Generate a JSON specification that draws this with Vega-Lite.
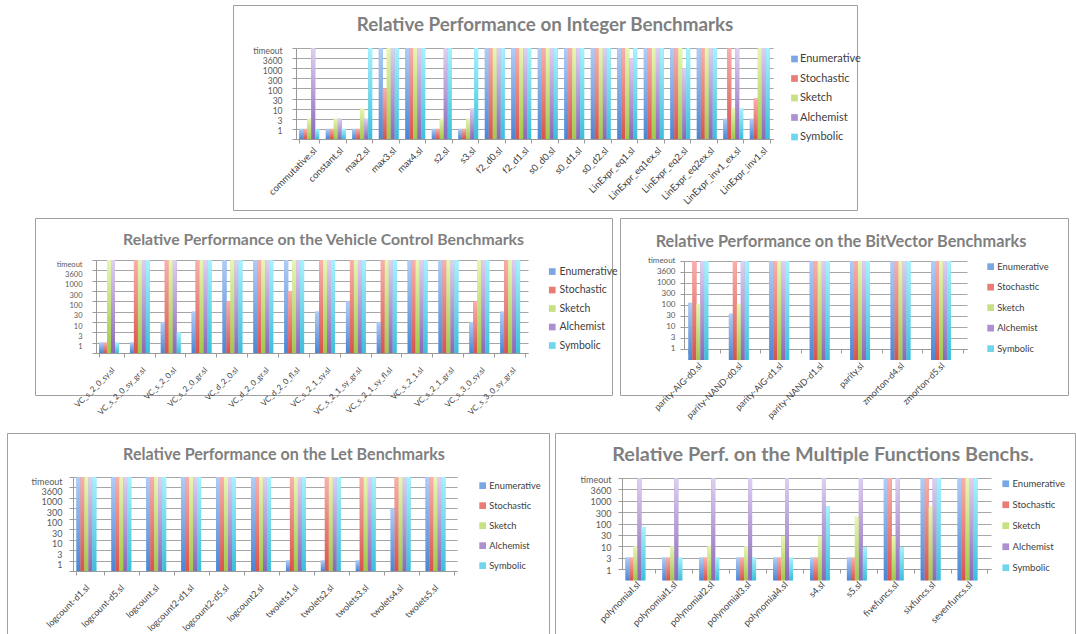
{
  "$schema": "https://vega.github.io/schema/vega-lite/v6.json",
  "padding": {"left": 5, "top": 4, "right": 0, "bottom": 0},
  "background": "white",
  "config": {
    "view": {"stroke": null},
    "font": "Lato",
    "axis": {"labelFont": "Lato", "domainColor": "#9a9a9a", "tickColor": "#9a9a9a", "gridColor": "#a6a6a6", "title": null},
    "axisX": {"labelAngle": -45, "labelColor": "#404040", "tickSize": 4, "tickBand": "extent", "labelOverlap": false, "labelLimit": 300, "grid": false, "zindex": 1},
    "axisY": {"labelColor": "#595959", "tickSize": 4, "grid": true, "labelExpr": "['','1','3','10','30','100','300','1000','3600','timeout'][datum.value]"},
    "legend": {"orient": "none", "title": null, "symbolType": "square", "symbolSize": 45, "symbolStrokeWidth": 0, "labelFont": "Lato", "labelColor": "#404040", "labelOffset": 2, "padding": 0, "direction": "vertical"},
    "title": {"font": "Lato", "fontWeight": "bold", "color": "#7f7f7f", "anchor": "middle", "frame": "group"},
    "bar": {"strokeWidth": 0}
  },
  "datasets": {
    "int": [
      {"b": "commutative.sl", "Enumerative": 1, "Stochastic": 1, "Sketch": 2, "Alchemist": 9, "Symbolic": 1},
      {"b": "constant.sl", "Enumerative": 1, "Stochastic": 1, "Sketch": 2, "Alchemist": 2, "Symbolic": 1},
      {"b": "max2.sl", "Enumerative": 1, "Stochastic": 1, "Sketch": 3, "Alchemist": 2, "Symbolic": 9},
      {"b": "max3.sl", "Enumerative": 9, "Stochastic": 5, "Sketch": 9, "Alchemist": 9, "Symbolic": 9},
      {"b": "max4.sl", "Enumerative": 9, "Stochastic": 9, "Sketch": 9, "Alchemist": 9, "Symbolic": 9},
      {"b": "s2.sl", "Enumerative": 1, "Stochastic": 1, "Sketch": 2, "Alchemist": 9, "Symbolic": 9},
      {"b": "s3.sl", "Enumerative": 1, "Stochastic": 1, "Sketch": 2, "Alchemist": 3, "Symbolic": 9},
      {"b": "f2_d0.sl", "Enumerative": 9, "Stochastic": 9, "Sketch": 9, "Alchemist": 9, "Symbolic": 9},
      {"b": "f2_d1.sl", "Enumerative": 9, "Stochastic": 9, "Sketch": 9, "Alchemist": 9, "Symbolic": 9},
      {"b": "s0_d0.sl", "Enumerative": 9, "Stochastic": 9, "Sketch": 9, "Alchemist": 9, "Symbolic": 9},
      {"b": "s0_d1.sl", "Enumerative": 9, "Stochastic": 9, "Sketch": 9, "Alchemist": 9, "Symbolic": 9},
      {"b": "s0_d2.sl", "Enumerative": 9, "Stochastic": 9, "Sketch": 9, "Alchemist": 9, "Symbolic": 9},
      {"b": "LinExpr_eq1.sl", "Enumerative": 9, "Stochastic": 9, "Sketch": 9, "Alchemist": 8, "Symbolic": 9},
      {"b": "LinExpr_eq1ex.sl", "Enumerative": 9, "Stochastic": 9, "Sketch": 9, "Alchemist": 9, "Symbolic": 9},
      {"b": "LinExpr_eq2.sl", "Enumerative": 9, "Stochastic": 9, "Sketch": 9, "Alchemist": 7, "Symbolic": 9},
      {"b": "LinExpr_eq2ex.sl", "Enumerative": 9, "Stochastic": 9, "Sketch": 9, "Alchemist": 9, "Symbolic": 9},
      {"b": "LinExpr_inv1_ex.sl", "Enumerative": 2, "Stochastic": 9, "Sketch": 3, "Alchemist": 9, "Symbolic": 3},
      {"b": "LinExpr_inv1.sl", "Enumerative": 2, "Stochastic": 4, "Sketch": 9, "Alchemist": 9, "Symbolic": 9}
    ],
    "vc": [
      {"b": "VC_s_2_0_sy.sl", "Enumerative": 1, "Stochastic": 1, "Sketch": 9, "Alchemist": 9, "Symbolic": 1},
      {"b": "VC_s_2_0_sy_gr.sl", "Enumerative": 1, "Stochastic": 9, "Sketch": 9, "Alchemist": 9, "Symbolic": 9},
      {"b": "VC_s_2_0.sl", "Enumerative": 3, "Stochastic": 9, "Sketch": 9, "Alchemist": 9, "Symbolic": 2},
      {"b": "VC_s_2_0_gr.sl", "Enumerative": 4, "Stochastic": 9, "Sketch": 9, "Alchemist": 9, "Symbolic": 9},
      {"b": "VC_d_2_0.sl", "Enumerative": 9, "Stochastic": 5, "Sketch": 9, "Alchemist": 9, "Symbolic": 9},
      {"b": "VC_d_2_0_gr.sl", "Enumerative": 9, "Stochastic": 9, "Sketch": 9, "Alchemist": 9, "Symbolic": 9},
      {"b": "VC_d_2_0_fl.sl", "Enumerative": 9, "Stochastic": 6, "Sketch": 9, "Alchemist": 9, "Symbolic": 9},
      {"b": "VC_s_2_1_sy.sl", "Enumerative": 4, "Stochastic": 9, "Sketch": 9, "Alchemist": 9, "Symbolic": 9},
      {"b": "VC_s_2_1_sy_gr.sl", "Enumerative": 5, "Stochastic": 9, "Sketch": 9, "Alchemist": 9, "Symbolic": 9},
      {"b": "VC_s_2_1_sy_fl.sl", "Enumerative": 3, "Stochastic": 9, "Sketch": 9, "Alchemist": 9, "Symbolic": 9},
      {"b": "VC_s_2_1.sl", "Enumerative": 9, "Stochastic": 9, "Sketch": 9, "Alchemist": 9, "Symbolic": 9},
      {"b": "VC_s_2_1_gr.sl", "Enumerative": 9, "Stochastic": 9, "Sketch": 9, "Alchemist": 9, "Symbolic": 9},
      {"b": "VC_s_3_0_sy.sl", "Enumerative": 3, "Stochastic": 5, "Sketch": 9, "Alchemist": 9, "Symbolic": 9},
      {"b": "VC_s_3_0_sy_gr.sl", "Enumerative": 4, "Stochastic": 9, "Sketch": 9, "Alchemist": 9, "Symbolic": 9}
    ],
    "bv": [
      {"b": "parity-AIG-d0.sl", "Enumerative": 5.2, "Stochastic": 9, "Sketch": 5.1, "Alchemist": 9, "Symbolic": 9},
      {"b": "parity-NAND-d0.sl", "Enumerative": 4.2, "Stochastic": 9, "Sketch": 5.1, "Alchemist": 9, "Symbolic": 9},
      {"b": "parity-AIG-d1.sl", "Enumerative": 9, "Stochastic": 9, "Sketch": 9, "Alchemist": 9, "Symbolic": 9},
      {"b": "parity-NAND-d1.sl", "Enumerative": 9, "Stochastic": 9, "Sketch": 9, "Alchemist": 9, "Symbolic": 9},
      {"b": "parity.sl", "Enumerative": 9, "Stochastic": 9, "Sketch": 9, "Alchemist": 9, "Symbolic": 9},
      {"b": "zmorton-d4.sl", "Enumerative": 9, "Stochastic": 9, "Sketch": 9, "Alchemist": 9, "Symbolic": 9},
      {"b": "zmorton-d5.sl", "Enumerative": 9, "Stochastic": 9, "Sketch": 9, "Alchemist": 9, "Symbolic": 9}
    ],
    "let": [
      {"b": "logcount-d1.sl", "Enumerative": 9, "Stochastic": 9, "Sketch": 9, "Alchemist": 9, "Symbolic": 9},
      {"b": "logcount-d5.sl", "Enumerative": 9, "Stochastic": 9, "Sketch": 9, "Alchemist": 9, "Symbolic": 9},
      {"b": "logcount.sl", "Enumerative": 9, "Stochastic": 9, "Sketch": 9, "Alchemist": 9, "Symbolic": 9},
      {"b": "logcount2-d1.sl", "Enumerative": 9, "Stochastic": 9, "Sketch": 9, "Alchemist": 9, "Symbolic": 9},
      {"b": "logcount2-d5.sl", "Enumerative": 9, "Stochastic": 9, "Sketch": 9, "Alchemist": 9, "Symbolic": 9},
      {"b": "logcount2.sl", "Enumerative": 9, "Stochastic": 9, "Sketch": 9, "Alchemist": 9, "Symbolic": 9},
      {"b": "twolets1.sl", "Enumerative": 1, "Stochastic": 9, "Sketch": 9, "Alchemist": 9, "Symbolic": 9},
      {"b": "twolets2.sl", "Enumerative": 1, "Stochastic": 9, "Sketch": 9, "Alchemist": 9, "Symbolic": 9},
      {"b": "twolets3.sl", "Enumerative": 1, "Stochastic": 9, "Sketch": 9, "Alchemist": 9, "Symbolic": 9},
      {"b": "twolets4.sl", "Enumerative": 6, "Stochastic": 9, "Sketch": 9, "Alchemist": 9, "Symbolic": 9},
      {"b": "twolets5.sl", "Enumerative": 9, "Stochastic": 9, "Sketch": 9, "Alchemist": 9, "Symbolic": 9}
    ],
    "mf": [
      {"b": "polynomial.sl", "Enumerative": 2, "Stochastic": 2, "Sketch": 3, "Alchemist": 9, "Symbolic": 4.7},
      {"b": "polynomial1.sl", "Enumerative": 2, "Stochastic": 2, "Sketch": 3, "Alchemist": 9, "Symbolic": 2},
      {"b": "polynomial2.sl", "Enumerative": 2, "Stochastic": 2, "Sketch": 3, "Alchemist": 9, "Symbolic": 2},
      {"b": "polynomial3.sl", "Enumerative": 2, "Stochastic": 2, "Sketch": 3, "Alchemist": 9, "Symbolic": 2},
      {"b": "polynomial4.sl", "Enumerative": 2, "Stochastic": 2, "Sketch": 3.85, "Alchemist": 9, "Symbolic": 2},
      {"b": "s4.sl", "Enumerative": 2, "Stochastic": 2, "Sketch": 3.85, "Alchemist": 9, "Symbolic": 6.5},
      {"b": "s5.sl", "Enumerative": 2, "Stochastic": 2, "Sketch": 5.6, "Alchemist": 9, "Symbolic": 2.9},
      {"b": "fivefuncs.sl", "Enumerative": 9, "Stochastic": 9, "Sketch": 3.85, "Alchemist": 9, "Symbolic": 2.9},
      {"b": "sixfuncs.sl", "Enumerative": 9, "Stochastic": 9, "Sketch": 6.5, "Alchemist": 9, "Symbolic": 9},
      {"b": "sevenfuncs.sl", "Enumerative": 9, "Stochastic": 9, "Sketch": 9, "Alchemist": 9, "Symbolic": 9}
    ]
  },
  "vconcat": [
    {
      "hconcat": [
        {"width": 228, "height": 1, "data": {"values": []}, "mark": {"type": "point", "opacity": 0}, "encoding": {}},
        {
          "width": 624, "height": 205,
          "view": {"stroke": "#a0a0a0"},
          "title": {"text": "Relative Performance on Integer Benchmarks", "fontSize": 18.8, "offset": -30},
          "data": {"name": "int"},
          "transform": [{"fold": ["Enumerative", "Stochastic", "Sketch", "Alchemist", "Symbolic"], "as": ["solver", "level"]}],
          "encoding": {
            "x": {"field": "b", "type": "nominal", "sort": null, "scale": {"range": [63, 540], "paddingInner": 0.25, "paddingOuter": 0.125}, "axis": {"offset": -71, "labelFontSize": 9.5, "labelPadding": 2, "labelOffset": 2}},
            "xOffset": {"field": "solver", "type": "nominal", "scale": {"domain": ["Enumerative", "Stochastic", "Sketch", "Alchemist", "Symbolic"], "paddingInner": 0, "paddingOuter": 0}},
            "y": {"field": "level", "type": "quantitative", "scale": {"domain": [0, 9], "range": [134, 43], "nice": false, "zero": false}, "axis": {"values": [0, 1, 2, 3, 4, 5, 6, 7, 8, 9], "offset": -63, "labelFontSize": 8.5, "labelPadding": 10, "labelOffset": 2}}
          },
          "layer": [
            {"mark": {"type": "bar"}, "encoding": {"color": {"field": "solver", "type": "nominal", "scale": {"domain": ["Enumerative", "Stochastic", "Sketch", "Alchemist", "Symbolic"], "range": ["#7aa7e4", "#ea7c76", "#c6e184", "#ad90d2", "#6fd6ee"]}, "legend": {"legendX": 556, "legendY": 48.5, "rowPadding": 7.5, "labelFontSize": 11, "labelOffset": 0}}}},
            {"mark": {"type": "bar"}, "encoding": {"color": {"condition": [
              {"test": "datum.solver === 'Enumerative'", "value": {"gradient": "linear", "x1": 0, "y1": 0, "x2": 0, "y2": 1, "stops": [{"offset": 0, "color": "#b0cdf6"}, {"offset": 1, "color": "#4a86d4"}]}},
              {"test": "datum.solver === 'Stochastic'", "value": {"gradient": "linear", "x1": 0, "y1": 0, "x2": 0, "y2": 1, "stops": [{"offset": 0, "color": "#f8b0ac"}, {"offset": 1, "color": "#d9534c"}]}},
              {"test": "datum.solver === 'Sketch'", "value": {"gradient": "linear", "x1": 0, "y1": 0, "x2": 0, "y2": 1, "stops": [{"offset": 0, "color": "#e8f6b4"}, {"offset": 1, "color": "#a0c84c"}]}},
              {"test": "datum.solver === 'Alchemist'", "value": {"gradient": "linear", "x1": 0, "y1": 0, "x2": 0, "y2": 1, "stops": [{"offset": 0, "color": "#ded0f2"}, {"offset": 1, "color": "#8a68b7"}]}}],
              "value": {"gradient": "linear", "x1": 0, "y1": 0, "x2": 0, "y2": 1, "stops": [{"offset": 0, "color": "#a8f2fd"}, {"offset": 1, "color": "#3cbedb"}]}}}}
          ]
        }
      ],
      "spacing": 0,
      "bounds": "flush",
      "resolve": {"scale": {"color": "independent"}, "legend": {"color": "independent"}}
    },
    {
      "hconcat": [
        {"width": 22, "height": 208, "data": {"values": []}, "mark": {"type": "point", "opacity": 0}, "encoding": {}},
        {
          "width": 577, "height": 177,
          "view": {"stroke": "#a0a0a0"},
          "title": {"text": "Relative Performance on the Vehicle Control Benchmarks", "fontSize": 15.8, "offset": -31},
          "data": {"name": "vc"},
          "transform": [{"fold": ["Enumerative", "Stochastic", "Sketch", "Alchemist", "Symbolic"], "as": ["solver", "level"]}],
          "encoding": {
            "x": {"field": "b", "type": "nominal", "sort": null, "scale": {"range": [61, 493], "paddingInner": 0.2, "paddingOuter": 0.1}, "axis": {"offset": -42, "labelFontSize": 8, "labelPadding": 9, "labelOffset": -1}},
            "xOffset": {"field": "solver", "type": "nominal", "scale": {"domain": ["Enumerative", "Stochastic", "Sketch", "Alchemist", "Symbolic"], "paddingInner": 0, "paddingOuter": 0}},
            "y": {"field": "level", "type": "quantitative", "scale": {"domain": [0, 9], "range": [135, 42], "nice": false, "zero": false}, "axis": {"values": [0, 1, 2, 3, 4, 5, 6, 7, 8, 9], "offset": -61, "labelFontSize": 7.5, "labelPadding": 10, "labelOffset": 4}}
          },
          "layer": [
            {"mark": {"type": "bar"}, "encoding": {"color": {"field": "solver", "type": "nominal", "scale": {"domain": ["Enumerative", "Stochastic", "Sketch", "Alchemist", "Symbolic"], "range": ["#7aa7e4", "#ea7c76", "#c6e184", "#ad90d2", "#6fd6ee"]}, "legend": {"legendX": 512, "legendY": 48.3, "rowPadding": 7.5, "labelFontSize": 10.5}}}},
            {"mark": {"type": "bar"}, "encoding": {"color": {"condition": [
              {"test": "datum.solver === 'Enumerative'", "value": {"gradient": "linear", "x1": 0, "y1": 0, "x2": 0, "y2": 1, "stops": [{"offset": 0, "color": "#b0cdf6"}, {"offset": 1, "color": "#4a86d4"}]}},
              {"test": "datum.solver === 'Stochastic'", "value": {"gradient": "linear", "x1": 0, "y1": 0, "x2": 0, "y2": 1, "stops": [{"offset": 0, "color": "#f8b0ac"}, {"offset": 1, "color": "#d9534c"}]}},
              {"test": "datum.solver === 'Sketch'", "value": {"gradient": "linear", "x1": 0, "y1": 0, "x2": 0, "y2": 1, "stops": [{"offset": 0, "color": "#e8f6b4"}, {"offset": 1, "color": "#a0c84c"}]}},
              {"test": "datum.solver === 'Alchemist'", "value": {"gradient": "linear", "x1": 0, "y1": 0, "x2": 0, "y2": 1, "stops": [{"offset": 0, "color": "#ded0f2"}, {"offset": 1, "color": "#8a68b7"}]}}],
              "value": {"gradient": "linear", "x1": 0, "y1": 0, "x2": 0, "y2": 1, "stops": [{"offset": 0, "color": "#a8f2fd"}, {"offset": 1, "color": "#3cbedb"}]}}}}
          ]
        },
        {
          "width": 448, "height": 177,
          "view": {"stroke": "#a0a0a0"},
          "title": {"text": "Relative Performance on the BitVector Benchmarks", "fontSize": 16.3, "offset": -32, "dx": -3},
          "data": {"name": "bv"},
          "transform": [{"fold": ["Enumerative", "Stochastic", "Sketch", "Alchemist", "Symbolic"], "as": ["solver", "level"]}],
          "encoding": {
            "x": {"field": "b", "type": "nominal", "sort": null, "scale": {"range": [64, 347], "paddingInner": 0.22, "paddingOuter": 0.11}, "axis": {"offset": -46, "labelFontSize": 9, "labelPadding": 8, "labelOffset": -7}},
            "xOffset": {"field": "solver", "type": "nominal", "scale": {"domain": ["Enumerative", "Stochastic", "Sketch", "Alchemist", "Symbolic"], "paddingInner": 0, "paddingOuter": 0}},
            "y": {"field": "level", "type": "quantitative", "scale": {"domain": [1, 9], "range": [131, 43], "nice": false, "zero": false}, "axis": {"values": [1, 2, 3, 4, 5, 6, 7, 8, 9], "offset": -64, "labelFontSize": 8, "labelPadding": 5, "labelOffset": -1}}
          },
          "layer": [
            {"mark": {"type": "bar"}, "encoding": {"color": {"field": "solver", "type": "nominal", "scale": {"domain": ["Enumerative", "Stochastic", "Sketch", "Alchemist", "Symbolic"], "range": ["#7aa7e4", "#ea7c76", "#c6e184", "#ad90d2", "#6fd6ee"]}, "legend": {"legendX": 366, "legendY": 44, "rowPadding": 10.5, "labelFontSize": 9.3}}}},
            {"mark": {"type": "bar"}, "encoding": {"color": {"condition": [
              {"test": "datum.solver === 'Enumerative'", "value": {"gradient": "linear", "x1": 0, "y1": 0, "x2": 0, "y2": 1, "stops": [{"offset": 0, "color": "#b0cdf6"}, {"offset": 1, "color": "#4a86d4"}]}},
              {"test": "datum.solver === 'Stochastic'", "value": {"gradient": "linear", "x1": 0, "y1": 0, "x2": 0, "y2": 1, "stops": [{"offset": 0, "color": "#f8b0ac"}, {"offset": 1, "color": "#d9534c"}]}},
              {"test": "datum.solver === 'Sketch'", "value": {"gradient": "linear", "x1": 0, "y1": 0, "x2": 0, "y2": 1, "stops": [{"offset": 0, "color": "#e8f6b4"}, {"offset": 1, "color": "#a0c84c"}]}},
              {"test": "datum.solver === 'Alchemist'", "value": {"gradient": "linear", "x1": 0, "y1": 0, "x2": 0, "y2": 1, "stops": [{"offset": 0, "color": "#ded0f2"}, {"offset": 1, "color": "#8a68b7"}]}}],
              "value": {"gradient": "linear", "x1": 0, "y1": 0, "x2": 0, "y2": 1, "stops": [{"offset": 0, "color": "#a8f2fd"}, {"offset": 1, "color": "#3cbedb"}]}}}}
          ]
        }
      ],
      "spacing": 8,
      "bounds": "flush",
      "resolve": {"scale": {"color": "independent"}, "legend": {"color": "independent"}}
    },
    {
      "hconcat": [
        {"width": 2, "height": 1, "data": {"values": []}, "mark": {"type": "point", "opacity": 0}, "encoding": {}},
        {
          "width": 542, "height": 201,
          "view": {"stroke": "#a0a0a0"},
          "title": {"text": "Relative Performance on the Let Benchmarks", "fontSize": 16.1, "offset": -30, "dx": 6},
          "data": {"name": "let"},
          "transform": [{"fold": ["Enumerative", "Stochastic", "Sketch", "Alchemist", "Symbolic"], "as": ["solver", "level"]}],
          "encoding": {
            "x": {"field": "b", "type": "nominal", "sort": null, "scale": {"range": [66, 450], "paddingInner": 0.2, "paddingOuter": 0.1}, "axis": {"offset": -63, "labelFontSize": 9, "labelPadding": 8, "labelOffset": -6}},
            "xOffset": {"field": "solver", "type": "nominal", "scale": {"domain": ["Enumerative", "Stochastic", "Sketch", "Alchemist", "Symbolic"], "paddingInner": 0, "paddingOuter": 0}},
            "y": {"field": "level", "type": "quantitative", "scale": {"domain": [0, 9], "range": [138, 44], "nice": false, "zero": false}, "axis": {"values": [0, 1, 2, 3, 4, 5, 6, 7, 8, 9], "offset": -66, "labelFontSize": 9, "labelPadding": 7, "labelOffset": 4}}
          },
          "layer": [
            {"mark": {"type": "bar"}, "encoding": {"color": {"field": "solver", "type": "nominal", "scale": {"domain": ["Enumerative", "Stochastic", "Sketch", "Alchemist", "Symbolic"], "range": ["#7aa7e4", "#ea7c76", "#c6e184", "#ad90d2", "#6fd6ee"]}, "legend": {"legendX": 471, "legendY": 48, "rowPadding": 10, "labelFontSize": 9.3}}}},
            {"mark": {"type": "bar"}, "encoding": {"color": {"condition": [
              {"test": "datum.solver === 'Enumerative'", "value": {"gradient": "linear", "x1": 0, "y1": 0, "x2": 0, "y2": 1, "stops": [{"offset": 0, "color": "#b0cdf6"}, {"offset": 1, "color": "#4a86d4"}]}},
              {"test": "datum.solver === 'Stochastic'", "value": {"gradient": "linear", "x1": 0, "y1": 0, "x2": 0, "y2": 1, "stops": [{"offset": 0, "color": "#f8b0ac"}, {"offset": 1, "color": "#d9534c"}]}},
              {"test": "datum.solver === 'Sketch'", "value": {"gradient": "linear", "x1": 0, "y1": 0, "x2": 0, "y2": 1, "stops": [{"offset": 0, "color": "#e8f6b4"}, {"offset": 1, "color": "#a0c84c"}]}},
              {"test": "datum.solver === 'Alchemist'", "value": {"gradient": "linear", "x1": 0, "y1": 0, "x2": 0, "y2": 1, "stops": [{"offset": 0, "color": "#ded0f2"}, {"offset": 1, "color": "#8a68b7"}]}}],
              "value": {"gradient": "linear", "x1": 0, "y1": 0, "x2": 0, "y2": 1, "stops": [{"offset": 0, "color": "#a8f2fd"}, {"offset": 1, "color": "#3cbedb"}]}}}}
          ]
        },
        {"width": 6, "height": 1, "data": {"values": []}, "mark": {"type": "point", "opacity": 0}, "encoding": {}},
        {
          "width": 520, "height": 201,
          "view": {"stroke": "#a0a0a0"},
          "title": {"text": "Relative Perf. on the Multiple Functions Benchs.", "fontSize": 19.8, "offset": -32, "dx": 8},
          "data": {"name": "mf"},
          "transform": [{"fold": ["Enumerative", "Stochastic", "Sketch", "Alchemist", "Symbolic"], "as": ["solver", "level"]}],
          "encoding": {
            "x": {"field": "b", "type": "nominal", "sort": null, "scale": {"range": [67, 436], "paddingInner": 0.19, "paddingOuter": 0.095}, "axis": {"offset": -65, "labelFontSize": 9.3, "labelPadding": 7, "labelOffset": -5}},
            "xOffset": {"field": "solver", "type": "nominal", "scale": {"domain": ["Enumerative", "Stochastic", "Sketch", "Alchemist", "Symbolic"], "paddingInner": 0, "paddingOuter": 0}},
            "y": {"field": "level", "type": "quantitative", "scale": {"domain": [1, 9], "range": [136, 45], "nice": false, "zero": false}, "axis": {"values": [1, 2, 3, 4, 5, 6, 7, 8, 9], "offset": -67, "labelFontSize": 9, "labelPadding": 7, "labelOffset": 1}}
          },
          "layer": [
            {"mark": {"type": "bar"}, "encoding": {"color": {"field": "solver", "type": "nominal", "scale": {"domain": ["Enumerative", "Stochastic", "Sketch", "Alchemist", "Symbolic"], "range": ["#7aa7e4", "#ea7c76", "#c6e184", "#ad90d2", "#6fd6ee"]}, "legend": {"legendX": 446, "legendY": 46, "rowPadding": 10, "labelFontSize": 9.5}}}},
            {"mark": {"type": "bar"}, "encoding": {"color": {"condition": [
              {"test": "datum.solver === 'Enumerative'", "value": {"gradient": "linear", "x1": 0, "y1": 0, "x2": 0, "y2": 1, "stops": [{"offset": 0, "color": "#b0cdf6"}, {"offset": 1, "color": "#4a86d4"}]}},
              {"test": "datum.solver === 'Stochastic'", "value": {"gradient": "linear", "x1": 0, "y1": 0, "x2": 0, "y2": 1, "stops": [{"offset": 0, "color": "#f8b0ac"}, {"offset": 1, "color": "#d9534c"}]}},
              {"test": "datum.solver === 'Sketch'", "value": {"gradient": "linear", "x1": 0, "y1": 0, "x2": 0, "y2": 1, "stops": [{"offset": 0, "color": "#e8f6b4"}, {"offset": 1, "color": "#a0c84c"}]}},
              {"test": "datum.solver === 'Alchemist'", "value": {"gradient": "linear", "x1": 0, "y1": 0, "x2": 0, "y2": 1, "stops": [{"offset": 0, "color": "#ded0f2"}, {"offset": 1, "color": "#8a68b7"}]}}],
              "value": {"gradient": "linear", "x1": 0, "y1": 0, "x2": 0, "y2": 1, "stops": [{"offset": 0, "color": "#a8f2fd"}, {"offset": 1, "color": "#3cbedb"}]}}}}
          ]
        }
      ],
      "spacing": 0,
      "bounds": "flush",
      "resolve": {"scale": {"color": "independent"}, "legend": {"color": "independent"}}
    }
  ],
  "spacing": 6,
  "resolve": {"scale": {"color": "independent"}, "legend": {"color": "independent"}}
}
